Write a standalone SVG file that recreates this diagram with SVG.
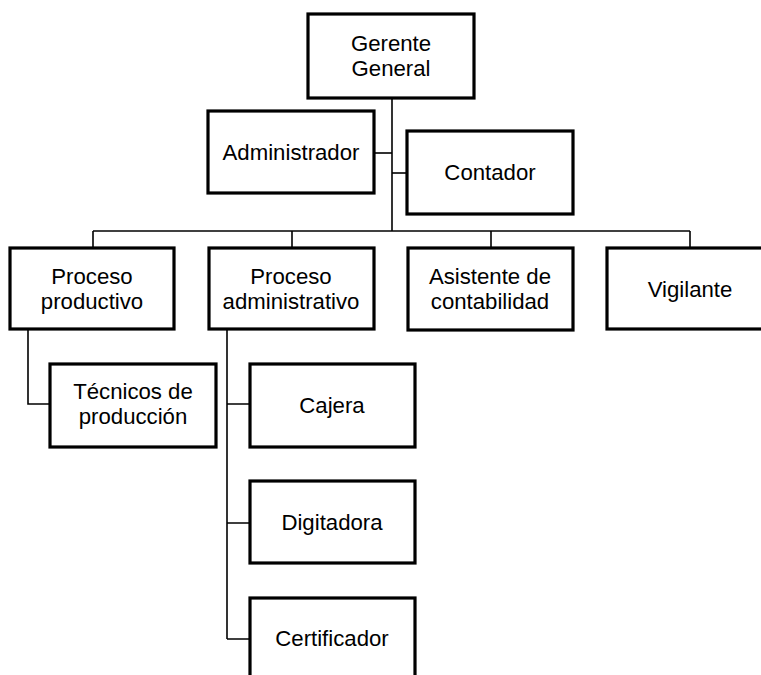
<svg xmlns="http://www.w3.org/2000/svg" width="761" height="675" viewBox="0 0 761 675">
  <style>
    .box { fill: #ffffff; stroke: #000000; stroke-width: 3.2; stroke-linejoin: miter; }
    .lbl { font-family: "Liberation Sans", Arial, Helvetica, sans-serif; font-size: 22.2px; fill: #000000; text-anchor: middle; }
    .wire { fill: none; stroke: #000000; stroke-width: 1.6; }
  </style>
  <rect width="761" height="675" fill="#ffffff"/>

  <!-- connectors -->
  <g id="connectors" class="wire">
    <path d="M392,98 V231"/>
    <path d="M374,153 H392"/>
    <path d="M392,173 H407"/>
    <path d="M93,231 H690"/>
    <path d="M93,231 V248 M292,231 V248 M491,231 V248 M690,231 V248"/>
    <path d="M28,329 V404 H50"/>
    <path d="M227,329 V639"/>
    <path d="M227,404 H250 M227,523 H250 M227,639 H250"/>
  </g>

  <g id="gerente-general">
    <rect class="box" x="308" y="14" width="166" height="84"/>
    <text class="lbl" x="391" y="51">Gerente<tspan x="391" dy="24.9">General</tspan></text>
  </g>

  <g id="administrador">
    <rect class="box" x="208" y="111" width="166" height="82"/>
    <text class="lbl" x="291" y="160">Administrador</text>
  </g>

  <g id="contador">
    <rect class="box" x="407" y="131" width="166" height="83"/>
    <text class="lbl" x="490" y="180">Contador</text>
  </g>

  <g id="proceso-productivo">
    <rect class="box" x="10" y="248" width="164" height="81"/>
    <text class="lbl" x="92" y="284">Proceso<tspan x="92" dy="24.9">productivo</tspan></text>
  </g>

  <g id="proceso-administrativo">
    <rect class="box" x="209" y="248" width="165" height="81"/>
    <text class="lbl" x="291" y="284">Proceso<tspan x="291" dy="24.9">administrativo</tspan></text>
  </g>

  <g id="asistente-contabilidad">
    <rect class="box" x="408" y="248" width="165" height="82"/>
    <text class="lbl" x="490" y="284">Asistente de<tspan x="490" dy="24.9">contabilidad</tspan></text>
  </g>

  <g id="vigilante">
    <rect class="box" x="607" y="248" width="166" height="81"/>
    <text class="lbl" x="690" y="297">Vigilante</text>
  </g>

  <g id="tecnicos-produccion">
    <rect class="box" x="50" y="364" width="166" height="83"/>
    <text class="lbl" x="133" y="399">Técnicos de<tspan x="133" dy="24.9">producción</tspan></text>
  </g>

  <g id="cajera">
    <rect class="box" x="250" y="364" width="165" height="83"/>
    <text class="lbl" x="332" y="413">Cajera</text>
  </g>

  <g id="digitadora">
    <rect class="box" x="250" y="481" width="165" height="82"/>
    <text class="lbl" x="332" y="530">Digitadora</text>
  </g>

  <g id="certificador">
    <rect class="box" x="250" y="598" width="165" height="84"/>
    <text class="lbl" x="332" y="646">Certificador</text>
  </g>
</svg>
